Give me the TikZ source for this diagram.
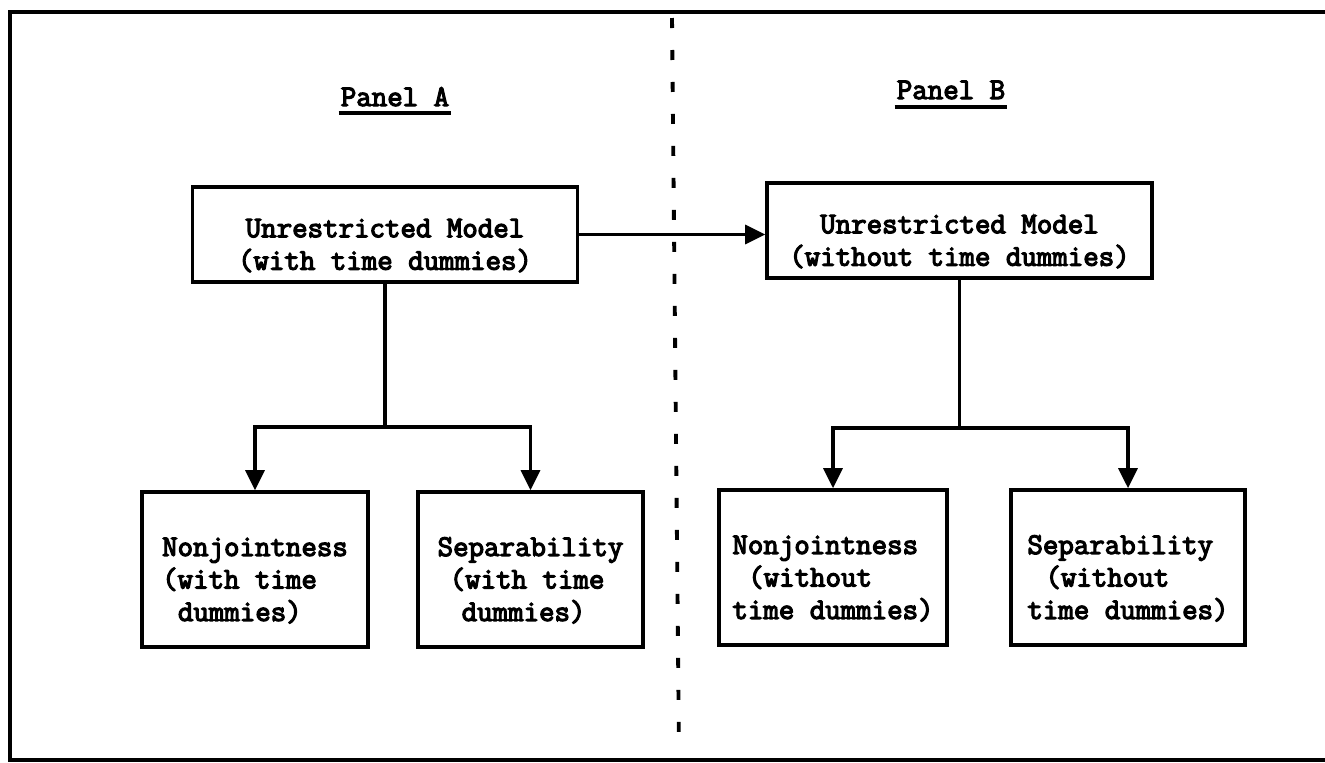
\documentclass[tikz,border=0pt]{standalone}
\usepackage{fontspec}
\newfontfamily\typer[FakeBold=4]{Latin Modern Mono}
\usetikzlibrary{arrows.meta}

\newcommand{\boxlift}{\rule{0pt}{23pt}}

\begin{document}
\begin{tikzpicture}[
    x=0.02cm, y=-0.02cm,
    every node/.style={font=\typer\fontsize{17.1}{18.5}\selectfont},
    box/.style={draw, line width=2.1pt, inner sep=0pt},
    link/.style={line width=1.9pt},
    arrow/.style={line width=1.9pt, -{Triangle[length=0.4cm, width=0.38cm]}},
    frame/.style={line width=2.3pt},
    divider/.style={line width=2.2pt, dash pattern=on 0.2cm off 0.44cm},
    heading/.style={anchor=base, inner xsep=1pt}
]
    \useasboundingbox (0,0) rectangle (1325,762);

    % Outer frame (open on the right)
    \draw[frame] (1325,12) -- (10,12) -- (10,760) -- (1325,760);

    % Divider between the panels
    \coordinate (divtop) at (672,18);
    \coordinate (divbot) at (679,752);
    \draw[divider] (divtop) -- (divbot);

    % Panel headings
    \node[heading] (pA) at (395,106) {Panel A};
    \node[heading] (pB) at (951,99) {Panel B};
    \draw[link] ([yshift=-0.14cm]pA.base west) -- ([yshift=-0.14cm]pA.base east);
    \draw[link] ([yshift=-0.16cm]pB.base west) -- ([yshift=-0.16cm]pB.base east);

    % Panel A
    \node[box, align=center, minimum width=7.7cm, minimum height=1.9cm] (UA) at (385,234.5)
        {\boxlift Unrestricted Model\\(with time dummies)};
    \node[box, align=left, minimum width=4.52cm, minimum height=3.1cm] (NA) at (255,569.5)
        {\boxlift Nonjointness\\(with time\\\hspace*{0.525em}dummies)};
    \node[box, align=left, minimum width=4.5cm, minimum height=3.1cm] (SA) at (530.5,569.5)
        {\boxlift Separability\\\hspace*{0.4em}(with time\\\hspace*{0.8em}dummies)};

    % Panel B
    \node[box, align=center, minimum width=7.7cm, minimum height=1.9cm] (UB) at (959.5,230.5)
        {\boxlift Unrestricted Model\\(without time dummies)};
    \node[box, align=left, minimum width=4.56cm, minimum height=3.1cm] (NB) at (833,567.5)
        {\boxlift Nonjointness\\\hspace*{0.525em}(without\\time dummies)};
    \node[box, align=left, minimum width=4.68cm, minimum height=3.1cm] (SB) at (1128,567.5)
        {\boxlift Separability\\\hspace*{0.6em}(without\\time dummies)};

    % Connectors
    \coordinate (barA) at (0,427);
    \coordinate (barB) at (0,428);
    \draw[arrow] (UA.east) -- (UA.east -| UB.west);
    \draw[link] (UA.south) -- (UA.south |- barA);
    \draw[arrow] (UA.south |- barA) -| (NA.north);
    \draw[arrow] (UA.south |- barA) -| (SA.north);
    \draw[link] (UB.south) -- (UB.south |- barB);
    \draw[arrow] (UB.south |- barB) -| (NB.north);
    \draw[arrow] (UB.south |- barB) -| (SB.north);

\end{tikzpicture}
\end{document}
